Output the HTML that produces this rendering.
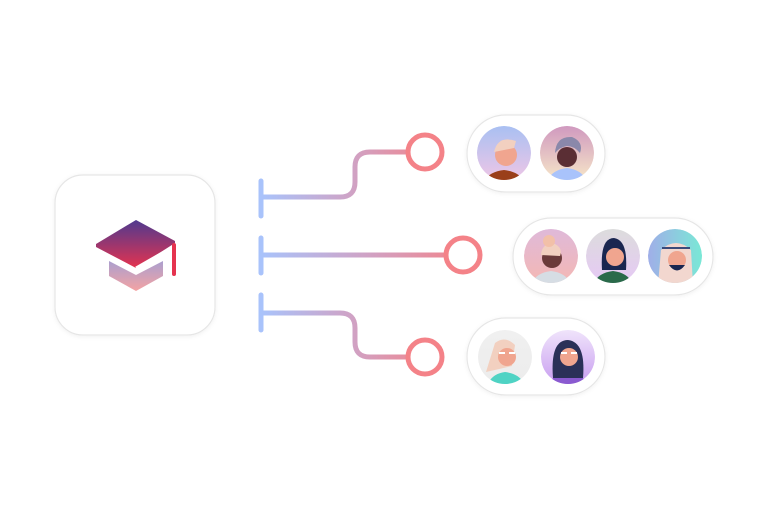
<!DOCTYPE html>
<html><head><style>body{margin:0;background:#fff}svg{display:block}</style></head><body>
<svg width="768" height="510" viewBox="0 0 768 510" xmlns="http://www.w3.org/2000/svg">
<defs>
<linearGradient id="ln" gradientUnits="userSpaceOnUse" x1="261" y1="0" x2="440" y2="0"><stop offset="0" stop-color="#a9c3fb"/><stop offset="0.5" stop-color="#cfa3c6"/><stop offset="1" stop-color="#f48288"/></linearGradient>
<linearGradient id="ln2" gradientUnits="userSpaceOnUse" x1="261" y1="0" x2="470" y2="0"><stop offset="0" stop-color="#a9c3fb"/><stop offset="0.5" stop-color="#cfa3c6"/><stop offset="1" stop-color="#f48288"/></linearGradient>
<linearGradient id="cap" x1="0" y1="0" x2="0" y2="1"><stop offset="0" stop-color="#4f3a8f"/><stop offset="1" stop-color="#e5334f"/></linearGradient>
<linearGradient id="base" x1="0" y1="0" x2="0" y2="1"><stop offset="0" stop-color="#ab9fcf"/><stop offset="1" stop-color="#f4a3a3"/></linearGradient>
<linearGradient id="a1" x1="0" y1="0" x2="0" y2="1"><stop offset="0" stop-color="#a9c0f2"/><stop offset="1" stop-color="#eec6e6"/></linearGradient>
<linearGradient id="a2" x1="0" y1="0" x2="0" y2="1"><stop offset="0" stop-color="#d099bf"/><stop offset="1" stop-color="#f6e6c8"/></linearGradient>
<linearGradient id="a3" x1="0" y1="0" x2="0" y2="1"><stop offset="0" stop-color="#dfb9d9"/><stop offset="1" stop-color="#f4b8b4"/></linearGradient>
<linearGradient id="a4" x1="0" y1="0" x2="0" y2="1"><stop offset="0" stop-color="#dcdcdc"/><stop offset="1" stop-color="#e6c9f5"/></linearGradient>
<linearGradient id="a5" x1="0" y1="0" x2="1" y2="0"><stop offset="0" stop-color="#a0aee8"/><stop offset="1" stop-color="#7ae8d6"/></linearGradient>
<linearGradient id="a6" x1="0" y1="0" x2="0" y2="1"><stop offset="0" stop-color="#f0f0f0"/><stop offset="1" stop-color="#ececec"/></linearGradient>
<linearGradient id="a7" x1="0" y1="0" x2="0" y2="1"><stop offset="0" stop-color="#f0e4fb"/><stop offset="1" stop-color="#c89ef0"/></linearGradient>
<clipPath id="c1"><circle cx="504" cy="153" r="27"/></clipPath>
<clipPath id="c2"><circle cx="567" cy="153" r="27"/></clipPath>
<clipPath id="c3"><circle cx="551" cy="256" r="27"/></clipPath>
<clipPath id="c4"><circle cx="613" cy="256" r="27"/></clipPath>
<clipPath id="c5"><circle cx="675" cy="256" r="27"/></clipPath>
<clipPath id="c6"><circle cx="505" cy="357" r="27"/></clipPath>
<clipPath id="c7"><circle cx="568" cy="357" r="27"/></clipPath>
<filter id="sh" x="-20%" y="-20%" width="140%" height="140%"><feDropShadow dx="0" dy="1" stdDeviation="2" flood-color="#000" flood-opacity="0.06"/></filter>
</defs>
<rect x="55" y="175" width="160" height="160" rx="28" fill="#fff" stroke="#e6e6e6" stroke-width="1.2" filter="url(#sh)"/>
<path d="M109 261 L136 275 L163 261 L163 276 L136 291 L109 276 Z" fill="url(#base)"/>
<path d="M96 244 L136 220 L175 241 L175 243 L136 268 L96 247 Z" fill="url(#cap)"/>
<path d="M136 268 L171 248" stroke="#fff" stroke-width="3"/>
<line x1="174" y1="245" x2="174" y2="274" stroke="#e5334f" stroke-width="4" stroke-linecap="round"/>
<g fill="none" stroke-width="5" stroke-linecap="round">
<line x1="261" y1="181" x2="261" y2="216" stroke="#a9c3fb"/>
<line x1="261" y1="238" x2="261" y2="273" stroke="#a9c3fb"/>
<line x1="261" y1="295" x2="261" y2="330" stroke="#a9c3fb"/>
<path d="M261 197 H340 Q355 197 355 182 V167 Q355 152 370 152 H408" stroke="url(#ln)"/>
<path d="M261 255 H446" stroke="url(#ln2)"/>
<path d="M261 313 H340 Q355 313 355 328 V342 Q355 357 370 357 H408" stroke="url(#ln)"/>
<circle cx="425" cy="152" r="17" stroke="#f48288" stroke-width="5"/>
<circle cx="463" cy="255" r="17" stroke="#f48288" stroke-width="5"/>
<circle cx="425" cy="357" r="17" stroke="#f48288" stroke-width="5"/>
</g>
<g fill="#fff" stroke="#e6e6e6" stroke-width="1.2" filter="url(#sh)">
<rect x="467" y="115" width="138" height="77" rx="38.5"/>
<rect x="513" y="218" width="200" height="77" rx="38.5"/>
<rect x="467" y="318" width="138" height="77" rx="38.5"/>
</g>
<g clip-path="url(#c1)"><circle cx="504" cy="153" r="27" fill="url(#a1)"/><path d="M484 182 Q488 172 504 170 Q520 172 524 182 Z" fill="#9a3f1a"/><circle cx="506" cy="155" r="11" fill="#f0a58f"/><path d="M494 152 Q498 135 516 141 L514 148 Z" fill="#f2d0c0"/></g>
<g clip-path="url(#c2)"><circle cx="567" cy="153" r="27" fill="url(#a2)"/><path d="M547 182 Q551 170 567 168 Q583 170 587 182 Z" fill="#a9c3fb"/><circle cx="567" cy="157" r="10" fill="#5a2e34"/><path d="M555 153 Q556 136 572 137 Q584 142 580 153 Q574 146 567 146 Q560 147 555 153 Z" fill="#8a88aa"/></g>
<g clip-path="url(#c3)"><circle cx="551" cy="256" r="27" fill="url(#a3)"/><path d="M531 285 Q535 273 551 271 Q567 273 571 285 Z" fill="#d6dde4"/><circle cx="552" cy="258" r="10" fill="#6a3a3a"/><path d="M541 255 Q542 242 555 244 Q563 248 560 256 Z" fill="#f2d0c0"/><circle cx="549" cy="241" r="6" fill="#f2c0a8"/></g>
<g clip-path="url(#c4)"><circle cx="613" cy="256" r="27" fill="url(#a4)"/><path d="M593 285 Q597 273 613 271 Q629 273 633 285 Z" fill="#2a6a4a"/><path d="M602 270 Q600 238 614 238 Q628 240 626 270 Z" fill="#1a2650"/><circle cx="615" cy="257" r="9" fill="#f0a58f"/></g>
<g clip-path="url(#c5)"><circle cx="675" cy="256" r="27" fill="url(#a5)"/><path d="M658 285 L661 250 Q676 236 691 250 L693 285 Z" fill="#f2d7cf"/><circle cx="677" cy="260" r="9" fill="#f0a58f"/><path d="M669 265 Q677 276 685 265 Z" fill="#1a2650"/><line x1="662" y1="248" x2="690" y2="248" stroke="#3a4a7a" stroke-width="2"/></g>
<g clip-path="url(#c6)"><circle cx="505" cy="357" r="27" fill="url(#a6)"/><path d="M487 386 Q491 374 505 372 Q521 374 525 386 Z" fill="#4fd3c4"/><path d="M486 372 L495 343 Q505 335 515 345 L512 366 Z" fill="#f2d0c0"/><circle cx="507" cy="357" r="9" fill="#f0a58f"/><path d="M499 353 h6 M509 353 h6" stroke="#fff" stroke-width="2"/></g>
<g clip-path="url(#c7)"><circle cx="568" cy="357" r="27" fill="url(#a7)"/><path d="M548 386 Q552 374 568 372 Q584 374 588 386 Z" fill="#8a5ad0"/><path d="M553 378 Q550 340 568 340 Q586 342 583 378 Z" fill="#2a3058"/><circle cx="569" cy="357" r="9" fill="#f0a58f"/><path d="M561 353 h6 M571 353 h6" stroke="#fff" stroke-width="2"/></g>
</svg>
</body></html>
